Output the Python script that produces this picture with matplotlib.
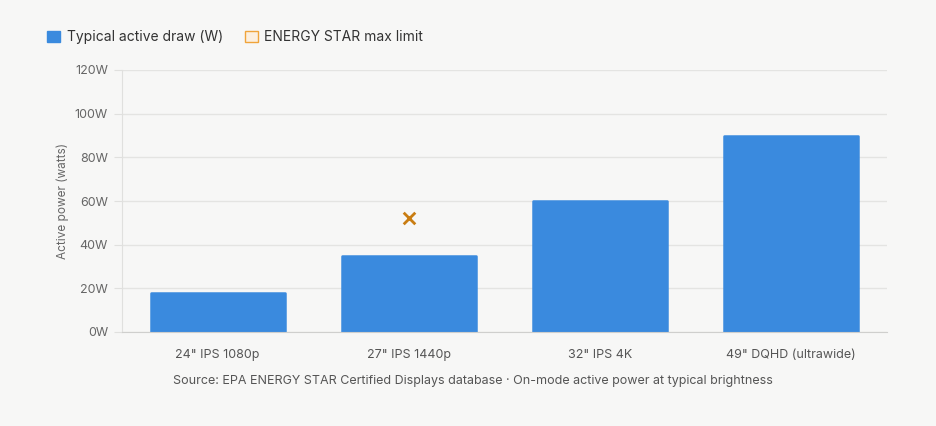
import numpy as np
import matplotlib.pyplot as plt
from matplotlib.patches import Patch

plt.rcParams['font.family'] = ['Inter', 'DejaVu Sans']

# data
categories = ['24" IPS 1080p', '27" IPS 1440p', '32" IPS 4K', '49" DQHD (ultrawide)']
typical_draw = [18, 35, 60, 90]
energy_star_limit = [np.nan, 52, np.nan, np.nan]
y_ticks = [0, 20, 40, 60, 80, 100, 120]

bg = '#f7f7f6'
bar_color = '#3a8ade'
limit_color = '#c97d12'

fig = plt.figure(figsize=(9.36, 4.26), dpi=100, facecolor=bg)
ax = fig.add_axes([122 / 936, 1 - 332 / 426, (887 - 122) / 936, (332 - 70) / 426])
ax.set_facecolor(bg)

x = np.arange(len(categories))
# thin rounded edge gives the soft corners
ax.bar(x, typical_draw, width=0.70, color=bar_color, edgecolor=bar_color,
       linewidth=1.8, joinstyle='round', zorder=3)
ax.scatter(x, energy_star_limit, marker='x', s=70, color=limit_color,
           linewidths=2, zorder=4)

ax.set_xlim(-0.5, len(categories) - 0.5)
ax.set_ylim(0, 120)
ax.set_yticks(y_ticks)
ax.set_yticklabels([f'{v}W' for v in y_ticks])
ax.set_xticks(x)
ax.set_xticklabels(categories)

ax.grid(axis='y', color='#e4e4e2', linewidth=1, zorder=0)
for s in ['top', 'right']:
    ax.spines[s].set_visible(False)
ax.spines['left'].set_color('#e0e0de')
ax.spines['bottom'].set_color('#cfcfcd')
ax.spines['bottom'].set_zorder(4)
ax.tick_params(axis='y', length=6, color='#e0e0de', labelsize=9, labelcolor='#666666', pad=4)
ax.tick_params(axis='x', length=0, labelsize=9, labelcolor='#555555', pad=12)

ax.set_ylabel('Active power (watts)', fontsize=8.5, color='#666666', labelpad=4)

handles = [
    Patch(facecolor=bar_color, edgecolor=bar_color, label='Typical active draw (W)'),
    Patch(facecolor='#fcefdf', edgecolor='#f0a43a', label='ENERGY STAR max limit'),
]
fig.legend(handles=handles, loc='upper left', bbox_to_anchor=(0.037, 0.958), ncol=2,
           frameon=False, handlelength=0.9, handleheight=0.9, handletextpad=0.5,
           columnspacing=1.6, fontsize=10, labelcolor='#333333')

fig.text(473 / 936, 1 - 381 / 426,
         'Source: EPA ENERGY STAR Certified Displays database · On-mode active power at typical brightness',
         ha='center', va='center', fontsize=9, color='#555555')

fig.savefig('out.png', dpi=100, facecolor=bg)
